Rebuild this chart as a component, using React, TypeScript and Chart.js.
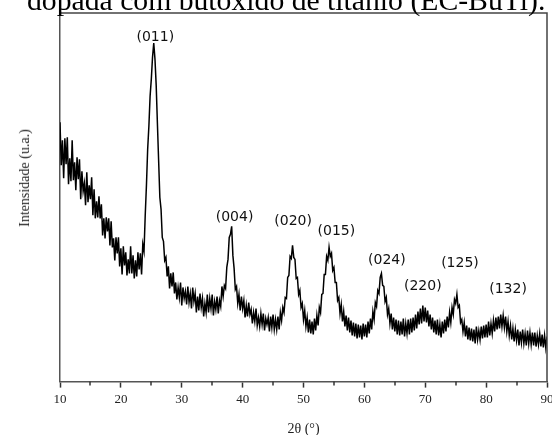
import React, { useEffect, useRef } from "react";
import { Chart, registerables } from "chart.js";

Chart.register(...registerables);

// 2θ grid of the measurement (degrees)
const twoThetaStart = 10;
const twoThetaStep = 0.2;

const intensity: number[] = [
  259, 216, 241, 203, 243, // 10
  217, 244, 197, 223, 200, // 11
  241, 201, 219, 191, 224, // 12
  202, 222, 182, 210, 190, // 13
  198, 176, 209, 179, 196, // 14
  182, 204, 166, 192, 163, // 15
  180, 164, 185, 163, 177, // 16
  146, 163, 143, 164, 150, // 17
  163, 136, 160, 134, 143, // 18
  121, 144, 128, 144, 115, // 19
  133, 107, 135, 116, 129, // 20
  106, 122, 108, 135, 108, // 21
  126, 103, 121, 105, 129, // 22
  112, 128, 107, 137, 130, // 23
  166, 196, 232, 255, 285, // 24
  302, 324, 338, 322, 296, // 25
  258, 221, 184, 172, 144, // 26
  140, 121, 124, 105, 115, // 27
  93, 108, 95, 109, 88, // 28
  99, 82, 94, 84, 99, // 29
  76, 94, 83, 90, 77, // 30
  95, 79, 88, 73, 94, // 31
  80, 88, 69, 85, 71, // 32
  88, 74, 83, 65, 78, // 33
  69, 87, 69, 83, 73, // 34
  87, 66, 80, 72, 85, // 35
  68, 81, 75, 95, 85, // 36
  96, 93, 114, 122, 144, // 37
  147, 155, 126, 113, 92, // 38
  95, 78, 87, 71, 85, // 39
  73, 81, 64, 76, 65, // 40
  79, 67, 72, 58, 69, // 41
  60, 73, 56, 64, 55, // 42
  68, 57, 68, 51, 63, // 43
  57, 64, 50, 65, 54, // 44
  67, 52, 62, 52, 65, // 45
  52, 69, 61, 74, 69, // 46
  84, 83, 104, 106, 125, // 47
  123, 136, 124, 122, 103, // 48
  104, 87, 91, 74, 78, // 49
  62, 71, 55, 64, 49, // 50
  62, 48, 60, 47, 63, // 51
  51, 66, 56, 74, 69, // 52
  87, 88, 107, 107, 125, // 53
  121, 134, 125, 128, 111, // 54
  114, 99, 99, 81, 84, // 55
  68, 77, 60, 70, 55, // 56
  66, 51, 64, 49, 61, // 57
  46, 59, 45, 58, 43, // 58
  57, 44, 56, 42, 58, // 59
  45, 57, 44, 60, 48, // 60
  63, 52, 70, 62, 79, // 61
  75, 91, 88, 104, 108, // 62
  96, 95, 80, 84, 67, // 63
  73, 58, 68, 52, 64, // 64
  50, 62, 47, 61, 46, // 65
  60, 47, 63, 45, 58, // 66
  48, 62, 47, 63, 49, // 67
  64, 51, 67, 53, 70, // 68
  57, 73, 58, 76, 60, // 69
  74, 59, 71, 55, 67, // 70
  52, 64, 49, 61, 47, // 71
  62, 46, 57, 44, 60, // 72
  48, 62, 50, 65, 54, // 73
  69, 59, 74, 67, 82, // 74
  78, 87, 74, 76, 59, // 75
  62, 50, 59, 45, 56, // 76
  42, 54, 41, 53, 40, // 77
  52, 38, 55, 42, 51, // 78
  42, 55, 43, 56, 44, // 79
  57, 44, 60, 46, 58, // 80
  48, 61, 50, 64, 52, // 81
  65, 53, 67, 55, 66, // 82
  54, 65, 50, 60, 46, // 83
  56, 42, 53, 40, 52, // 84
  41, 52, 36, 50, 39, // 85
  52, 38, 48, 36, 51, // 86
  38, 49, 37, 49, 36, // 87
  49, 35, 46, 37, 48, // 88
  35, 47, 34, 46, 34, // 89
  45, // 90
];

const xMajorTicks = [10, 20, 30, 40, 50, 60, 70, 80, 90];
const xMinorTicks = [15, 25, 35, 45, 55, 65, 75, 85];

// Miller-index labels and their anchor (2θ, intensity)
const peakLabels = ["(011)", "(004)", "(020)", "(015)", "(024)", "(220)", "(125)", "(132)"];
const peakLabelTheta = [25.65, 38.67, 48.3, 55.4, 63.7, 69.6, 75.7, 83.6];
const peakLabelIntensity = [344, 164, 160, 150, 121, 95, 118, 92];

const caption = "dopada com butóxido de titânio (EC-BuTi).";
const xTitle = "2θ (°)";
const yTitle = "Intensidade (u.a.)";

const SERIF = "'Liberation Serif', 'Times New Roman', serif";

export default function App() {
  const canvasRef = useRef<HTMLCanvasElement>(null);

  useEffect(() => {
    const canvas = canvasRef.current;
    if (!canvas) return;
    const points = intensity.map((v, i) => ({ x: twoThetaStart + i * twoThetaStep, y: v }));

    const decor = {
      id: "decor",
      afterDatasetsDraw(chart: any) {
        const { ctx, chartArea: a, scales } = chart;
        const xs = scales.x;
        const ys = scales.y;
        ctx.save();
        // top and right frame
        ctx.strokeStyle = "#444";
        ctx.lineWidth = 1.5;
        ctx.beginPath();
        ctx.moveTo(a.left, a.top);
        ctx.lineTo(a.right, a.top);
        ctx.lineTo(a.right, a.bottom);
        ctx.stroke();
        // minor ticks
        ctx.strokeStyle = "#333";
        ctx.lineWidth = 1.5;
        xMinorTicks.forEach((t) => {
          const px = Math.round(xs.getPixelForValue(t));
          ctx.beginPath();
          ctx.moveTo(px, a.bottom);
          ctx.lineTo(px, a.bottom + 4);
          ctx.stroke();
        });
        // peak labels
        ctx.fillStyle = "#111";
        ctx.font = "14px 'DejaVu Sans', Verdana, sans-serif";
        ctx.textAlign = "center";
        ctx.textBaseline = "middle";
        peakLabels.forEach((t, i) => {
          ctx.fillText(t, xs.getPixelForValue(peakLabelTheta[i]), ys.getPixelForValue(peakLabelIntensity[i]));
        });
        ctx.restore();
      },
    };

    const chart = new Chart(canvas, {
      type: "line",
      data: {
        datasets: [
          {
            data: points,
            borderColor: "#000",
            borderWidth: 1.5,
            pointRadius: 0,
            tension: 0,
            fill: false,
            borderJoinStyle: "miter",
          },
        ],
      },
      options: {
        responsive: false,
        animation: false,
        events: [],
        layout: { padding: { left: 60, right: 5, top: 13, bottom: -3 } },
        plugins: { legend: { display: false }, tooltip: { enabled: false }, title: { display: false } },
        scales: {
          x: {
            type: "linear",
            min: 10,
            max: 90,
            afterBuildTicks: (s: any) => {
              s.ticks = xMajorTicks.map((v) => ({ value: v }));
            },
            afterFit: (s: any) => {
              s.paddingLeft = 0;
              s.paddingRight = 0;
            },
            ticks: {
              color: "#222",
              font: { family: SERIF, size: 13 },
              padding: 4,
              maxRotation: 0,
            },
            grid: {
              display: true,
              drawOnChartArea: false,
              drawTicks: true,
              tickLength: 6,
              tickColor: "#333",
              tickWidth: 1.5,
            },
            border: { display: true, color: "#555", width: 1.5 },
            title: {
              display: true,
              text: xTitle,
              color: "#222",
              font: { family: SERIF, size: 14 },
              padding: { top: 10, bottom: 0 },
            },
          },
          y: {
            type: "linear",
            min: 0,
            max: 368,
            afterFit: (s: any) => {
              s.width = 0;
            },
            ticks: { display: false },
            grid: { display: false },
            border: { display: true, color: "#555", width: 1.5 },
          },
        },
      },
      plugins: [decor],
    });
    return () => chart.destroy();
  }, []);

  return (
    <div style={{ position: "absolute", left: 0, top: 0, width: 552, height: 435, overflow: "hidden", background: "#fff" }}>
      <canvas ref={canvasRef} width={552} height={435} style={{ position: "absolute", left: 0, top: 0 }} />
      <div
        style={{
          position: "absolute",
          left: 27,
          top: -14,
          fontFamily: SERIF,
          fontSize: 29.7,
          lineHeight: "29px",
          whiteSpace: "nowrap",
          color: "#000",
        }}
      >
        {caption}
      </div>
      <div
        style={{
          position: "absolute",
          left: 25,
          top: 178,
          transform: "translate(-50%, -50%) rotate(-90deg)",
          fontFamily: SERIF,
          fontSize: 14,
          whiteSpace: "nowrap",
          color: "#222",
        }}
      >
        {yTitle}
      </div>
    </div>
  );
}
